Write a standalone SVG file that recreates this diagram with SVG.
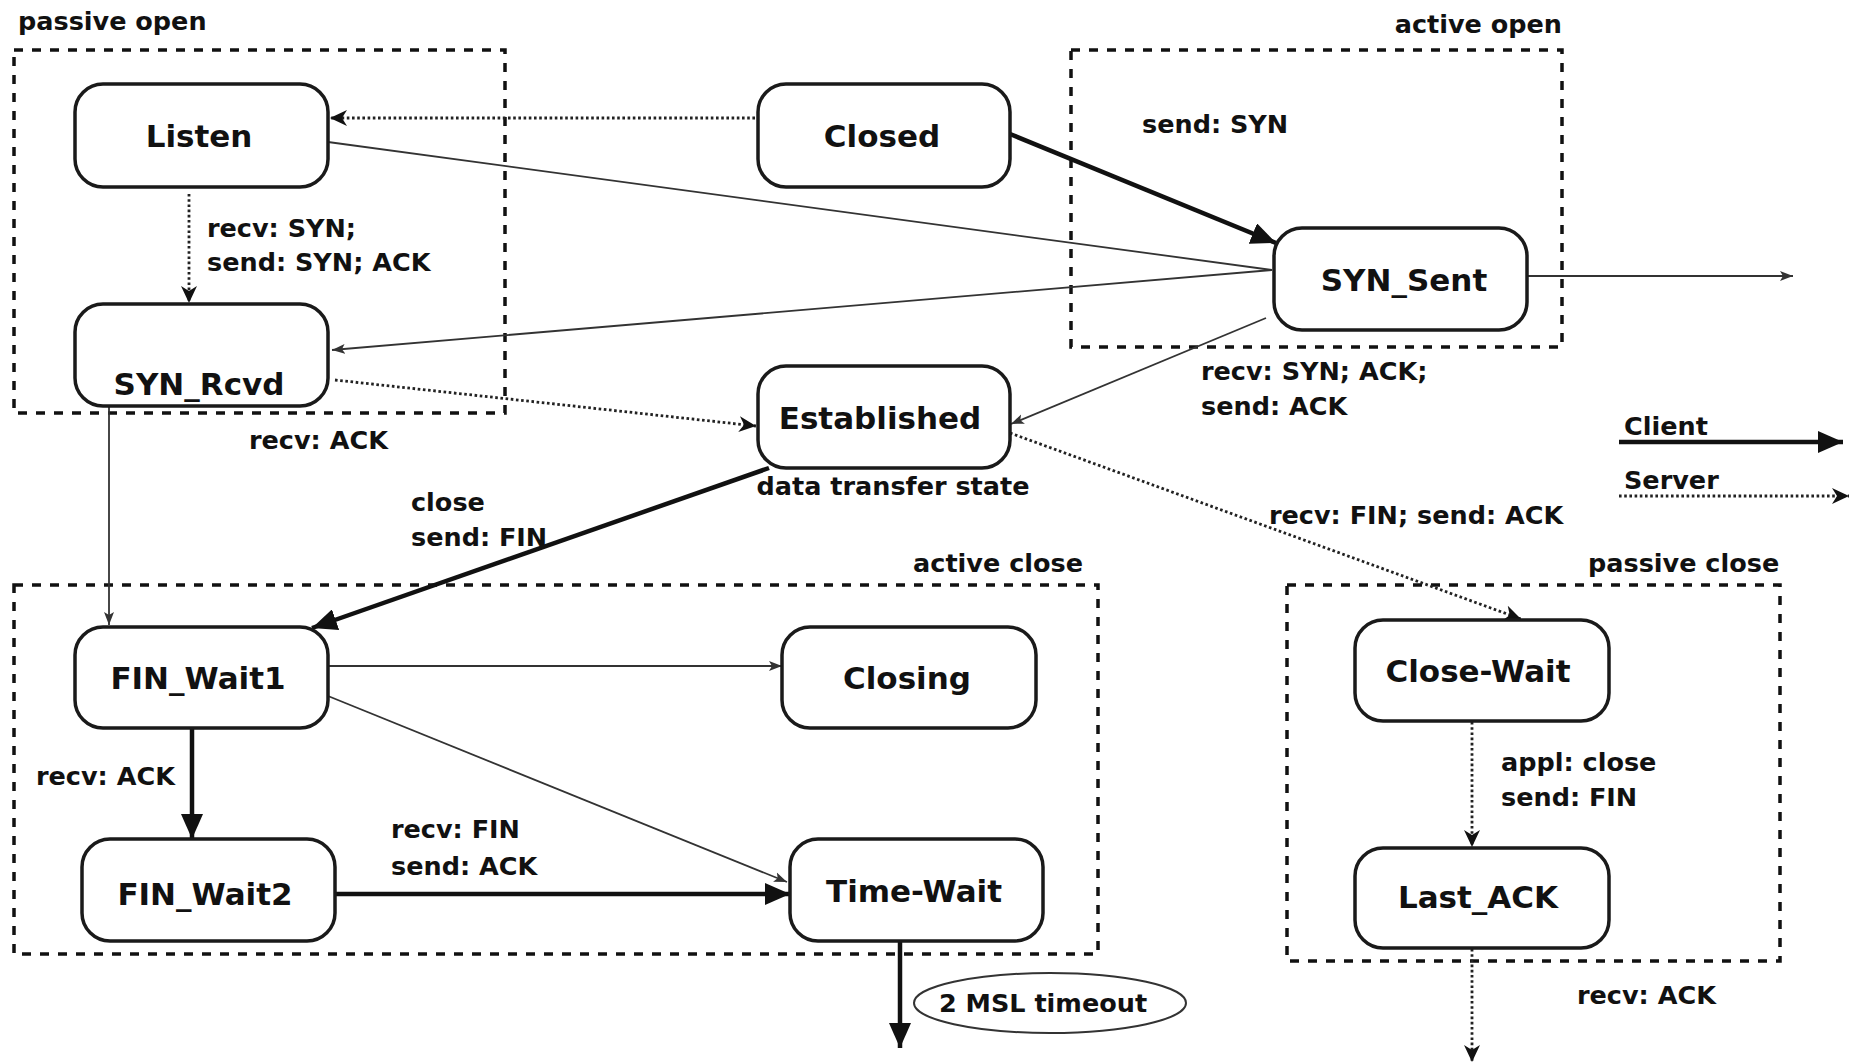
<svg xmlns="http://www.w3.org/2000/svg" width="1856" height="1064" viewBox="0 0 1856 1064">
<style>
.bg{fill:#fff}
.grp{fill:none;stroke:#111;stroke-width:3.5;stroke-dasharray:9 9}
.node rect{fill:#fff;stroke:#1a1a1a;stroke-width:3.5}
.nt{font-family:"DejaVu Sans",Verdana,sans-serif;font-weight:bold;font-size:31px;fill:#111;text-anchor:middle}
.lb{font-family:"DejaVu Sans",Verdana,sans-serif;font-weight:bold;font-size:25.5px;fill:#111}
.thin{fill:none;stroke:#333;stroke-width:1.8}
.thick{fill:none;stroke:#111;stroke-width:4.5}
.dot{fill:none;stroke:#222;stroke-width:2.8;stroke-dasharray:2.6 2.6}
</style>
<defs>
<marker id="aThin" markerUnits="userSpaceOnUse" markerWidth="14" markerHeight="12" refX="13" refY="6" orient="auto">
<path d="M0,1 L13,6 L0,11 L3,6 Z" fill="#333"/>
</marker>
<marker id="aThick" markerUnits="userSpaceOnUse" markerWidth="26" markerHeight="22" refX="25" refY="11" orient="auto">
<path d="M0,0 L25,11 L0,22 Z" fill="#111"/>
</marker>
<marker id="aDot" markerUnits="userSpaceOnUse" markerWidth="18" markerHeight="18" refX="17" refY="9" orient="auto">
<path d="M0,1 L17,9 L0,17 L5,9 Z" fill="#111"/>
</marker>
</defs>
<rect class="bg" x="0" y="0" width="1856" height="1064"/>

<g id="groups">
<rect class="grp" x="14" y="50" width="491" height="363"/>
<text class="lb" x="18" y="30">passive open</text>
<rect class="grp" x="1071" y="50" width="491" height="297"/>
<text class="lb" x="1562" y="33" text-anchor="end">active open</text>
<rect class="grp" x="14" y="585" width="1084" height="369"/>
<text class="lb" x="1083" y="572" text-anchor="end">active close</text>
<rect class="grp" x="1287" y="585" width="493" height="376"/>
<text class="lb" x="1588" y="572">passive close</text>
</g>

<g id="connectors">
<line class="dot" x1="755" y1="118" x2="330" y2="118" marker-end="url(#aDot)"/>
<line class="thin" x1="328" y1="142" x2="1272" y2="270"/>
<line class="thin" x1="1272" y1="270" x2="332" y2="350" marker-end="url(#aThin)"/>
<line class="thick" x1="1010" y1="134" x2="1276" y2="243" marker-end="url(#aThick)"/>
<line class="thin" x1="1266" y1="318" x2="1011" y2="424" marker-end="url(#aThin)"/>
<line class="dot" x1="335" y1="380" x2="756" y2="426" marker-end="url(#aDot)"/>
<line class="dot" x1="189" y1="194" x2="189" y2="303" marker-end="url(#aDot)"/>
<line class="thin" x1="109" y1="402" x2="109" y2="625" marker-end="url(#aThin)"/>
<line class="thick" x1="769" y1="468" x2="312" y2="628" marker-end="url(#aThick)"/>
<line class="dot" x1="1010" y1="433" x2="1521" y2="619" marker-end="url(#aDot)"/>
<line class="thin" x1="1527" y1="276" x2="1793" y2="276" marker-end="url(#aThin)"/>
<line class="thin" x1="328" y1="666" x2="782" y2="666" marker-end="url(#aThin)"/>
<line class="thin" x1="328" y1="696" x2="787" y2="882" marker-end="url(#aThin)"/>
<line class="thick" x1="192" y1="728" x2="192" y2="839" marker-end="url(#aThick)"/>
<line class="thick" x1="335" y1="894" x2="790" y2="894" marker-end="url(#aThick)"/>
<line class="thick" x1="900" y1="941" x2="900" y2="1048" marker-end="url(#aThick)"/>
<line class="dot" x1="1472" y1="722" x2="1472" y2="847" marker-end="url(#aDot)"/>
<line class="dot" x1="1472" y1="949" x2="1472" y2="1062" marker-end="url(#aDot)"/>
</g>

<g id="labels">
<text class="lb" x="207" y="237">recv: SYN;</text>
<text class="lb" x="207" y="271">send: SYN; ACK</text>
<text class="lb" x="249" y="449">recv: ACK</text>
<text class="lb" x="1142" y="133">send: SYN</text>
<text class="lb" x="1201" y="380">recv: SYN; ACK;</text>
<text class="lb" x="1201" y="415">send: ACK</text>
<text class="lb" x="411" y="511">close</text>
<text class="lb" x="411" y="546">send: FIN</text>
<text class="lb" x="1269" y="524">recv: FIN; send: ACK</text>
<text class="lb" x="36" y="785">recv: ACK</text>
<text class="lb" x="391" y="838">recv: FIN</text>
<text class="lb" x="391" y="875">send: ACK</text>
<text class="lb" x="1501" y="771">appl: close</text>
<text class="lb" x="1501" y="806">send: FIN</text>
<text class="lb" x="1577" y="1004">recv: ACK</text>
<text class="lb" x="893" y="495" text-anchor="middle">data transfer state</text>
</g>

<g id="node-listen" class="node"><rect x="75" y="84" width="253" height="103" rx="28"/><text class="nt" x="199" y="147">Listen</text></g>
<g id="node-closed" class="node"><rect x="758" y="84" width="252" height="103" rx="28"/><text class="nt" x="882" y="147">Closed</text></g>
<g id="node-synsent" class="node"><rect x="1274" y="228" width="253" height="102" rx="28"/><text class="nt" x="1404" y="291">SYN_Sent</text></g>
<g id="node-synrcvd" class="node"><rect x="75" y="304" width="253" height="102" rx="28"/><text class="nt" x="199" y="395">SYN_Rcvd</text></g>
<g id="node-established" class="node"><rect x="758" y="366" width="252" height="102" rx="28"/><text class="nt" x="880" y="429">Established</text></g>
<g id="node-finwait1" class="node"><rect x="75" y="627" width="253" height="101" rx="28"/><text class="nt" x="198" y="689">FIN_Wait1</text></g>
<g id="node-closing" class="node"><rect x="782" y="627" width="254" height="101" rx="28"/><text class="nt" x="907" y="689">Closing</text></g>
<g id="node-finwait2" class="node"><rect x="82" y="839" width="253" height="102" rx="28"/><text class="nt" x="205" y="905">FIN_Wait2</text></g>
<g id="node-timewait" class="node"><rect x="790" y="839" width="253" height="102" rx="28"/><text class="nt" x="914" y="902">Time-Wait</text></g>
<g id="node-closewait" class="node"><rect x="1355" y="620" width="254" height="101" rx="28"/><text class="nt" x="1478" y="682">Close-Wait</text></g>
<g id="node-lastack" class="node"><rect x="1355" y="848" width="254" height="100" rx="28"/><text class="nt" x="1478" y="908">Last_ACK</text></g>
<g id="node-timeout"><ellipse cx="1050" cy="1003" rx="136" ry="30" fill="#fff" stroke="#333" stroke-width="2"/><text class="lb" x="1043" y="1012" text-anchor="middle">2 MSL timeout</text></g>

<g id="legend">
<text class="lb" x="1624" y="435">Client</text>
<line class="thick" x1="1619" y1="442" x2="1843" y2="442" marker-end="url(#aThick)"/>
<text class="lb" x="1624" y="489">Server</text>
<line class="dot" x1="1619" y1="496" x2="1849" y2="496" marker-end="url(#aDot)"/>
</g>
</svg>
